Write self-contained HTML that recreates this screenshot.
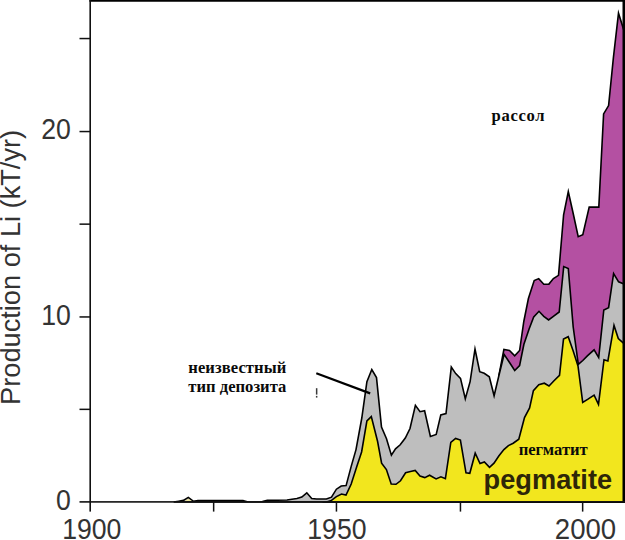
<!DOCTYPE html>
<html><head><meta charset="utf-8">
<style>
html,body{margin:0;padding:0;background:#fff;}
body{width:625px;height:540px;overflow:hidden;position:relative;font-family:"Liberation Sans",sans-serif;}
svg{position:absolute;left:0;top:0;display:block;}
.ax{font-family:"Liberation Sans",sans-serif;font-size:26.67px;fill:#333;}
.ru{font-family:"Liberation Serif",serif;font-weight:bold;font-size:16.6px;fill:#0a0a0a;}
</style></head><body>
<svg width="625" height="540" viewBox="0 0 625 540">
<rect x="0" y="0" width="625" height="540" fill="#fff"/>
<g stroke="#000" stroke-width="1.6" stroke-linejoin="miter" stroke-miterlimit="10">
<polygon fill="#B450A2" points="498.8,502 498.8,376.0 503.9,349.5 509.5,350.5 514.7,355.9 519.6,350.5 523.8,321.5 528.4,298.5 534.2,280.5 538.7,278.6 543.8,284.3 548.9,284.1 553.4,278.6 558.5,275.4 563.6,214.8 568.3,191.5 573.2,213.5 578.2,236.7 582.8,234.7 589.2,207.1 594.0,207.1 598.8,207.1 603.6,113.9 608.6,105.6 613.4,57.6 618.5,13.2 624.0,30.7 624.0,502"/>
<polygon fill="#BEBEBE" points="173.7,502 173.7,502.0 178.7,501.2 183.4,500.4 188.3,497.4 193.2,501.2 198.0,500.6 243.0,500.6 248.0,502.0 260.0,502.0 262.4,501.6 267.3,500.4 287.0,500.0 296.9,498.5 301.8,497.0 306.8,492.8 311.7,498.5 316.6,499.0 326.4,499.0 331.5,497.2 336.4,489.2 341.2,486.0 346.1,485.6 351.2,466.4 356.0,449.6 361.8,418.0 366.9,381.6 371.8,369.5 376.5,377.6 381.5,427.0 386.5,438.8 391.4,455.2 395.5,448.8 400.2,444.8 405.3,438.0 410.0,428.5 415.4,405.3 420.0,411.7 424.6,410.7 430.4,436.4 436.2,434.4 440.8,414.9 446.0,413.6 451.3,367.1 455.7,373.6 460.5,378.4 465.3,398.7 470.1,381.6 475.0,349.0 479.7,371.7 484.2,373.3 489.3,376.8 494.1,395.8 498.8,376.0 504.1,354.4 509.2,362.0 514.7,370.5 519.6,365.5 523.9,344.3 529.1,329.0 533.7,317.0 539.0,311.3 543.8,316.3 548.6,319.9 553.4,316.3 559.2,312.0 563.7,266.6 568.3,268.6 573.2,327.0 578.3,364.4 582.8,360.5 587.6,355.7 594.1,349.8 598.7,357.6 603.8,310.0 608.6,307.6 613.6,273.5 618.6,281.8 624.0,284.0 624.0,502"/>
<polygon fill="#F2E61E" points="326.4,502 326.4,502.0 331.5,500.4 336.4,496.6 341.5,494.0 346.0,495.1 351.2,484.0 356.8,466.4 361.6,452.0 366.9,420.8 371.3,416.6 377.6,441.5 381.6,463.2 386.4,469.6 391.2,484.0 396.0,484.3 400.5,480.8 405.6,472.8 410.4,471.5 415.2,470.4 420.0,476.0 424.8,477.6 429.6,475.2 436.1,478.9 440.9,476.8 445.4,478.7 450.8,442.4 455.6,438.4 460.4,440.0 466.0,472.8 469.8,473.3 475.2,453.2 480.0,463.6 484.4,461.9 489.5,467.3 494.0,463.2 498.8,456.0 503.9,449.6 508.4,445.6 513.2,443.2 518.8,439.2 524.5,417.5 529.6,408.0 533.4,390.6 538.8,384.7 544.3,383.2 549.0,386.0 554.0,380.8 559.5,375.4 563.5,339.1 568.2,336.7 573.2,350.9 578.0,366.0 582.7,402.4 587.6,399.4 594.1,395.2 598.5,404.4 604.0,359.7 607.9,361.0 614.0,325.4 618.3,338.5 624.0,343.6 624.0,502"/>
<polygon fill="#EAE29A" stroke="none" points="184.8,500.9 188.3,498.7 191.9,500.9"/>
</g>
<!-- frame -->
<rect x="89.4" y="0" width="535.6" height="1.75" fill="#000"/>
<rect x="622.5" y="0" width="2.5" height="502.7" fill="#000"/>
<rect x="89.4" y="0" width="1.6" height="511.6" fill="#111"/>
<rect x="79.5" y="501.1" width="545.5" height="1.6" fill="#111"/>
<g fill="#111">
<rect x="79.5" y="408.6" width="11" height="1.5"/>
<rect x="79.5" y="316.2" width="11" height="1.5"/>
<rect x="79.5" y="223.4" width="11" height="1.5"/>
<rect x="79.5" y="130.8" width="11" height="1.5"/>
<rect x="79.5" y="37.8" width="11" height="1.5"/>
<rect x="212.9" y="502" width="1.5" height="9.6"/>
<rect x="335.7" y="502" width="1.5" height="9.6"/>
<rect x="459.7" y="502" width="1.5" height="9.6"/>
<rect x="581.9" y="502" width="1.5" height="9.6"/>
</g>
<!-- arrow -->
<line x1="316.3" y1="373.3" x2="370.2" y2="393.4" stroke="#000" stroke-width="2.2"/>
<rect x="315.9" y="388.2" width="1.5" height="6.4" fill="#3a3a3a"/>
<rect x="315.9" y="395.9" width="1.5" height="1.7" fill="#3a3a3a"/>
<!-- axis labels -->
<g class="ax">
<text transform="translate(70.9,509.6) scale(1,1.075)" text-anchor="end">0</text>
<text transform="translate(70.9,324.6) scale(1,1.075)" text-anchor="end">10</text>
<text transform="translate(70.9,138.9) scale(1,1.075)" text-anchor="end">20</text>
<text transform="translate(91.8,539) scale(1,1.075)" text-anchor="middle">1900</text>
<text transform="translate(336.9,539) scale(1,1.075)" text-anchor="middle">1950</text>
<text transform="translate(554.8,539) scale(1,1.075)" textLength="61.4" lengthAdjust="spacingAndGlyphs">2000</text>
<text transform="translate(19.8,267.4) rotate(-90) scale(1,1.05)" text-anchor="middle" textLength="275" lengthAdjust="spacingAndGlyphs">Production of Li (kT/yr)</text>
</g>
<!-- annotations -->
<text class="ru" x="491.6" y="121.2" textLength="53" lengthAdjust="spacing">рассол</text>
<text class="ru" x="188.3" y="373" textLength="98" lengthAdjust="spacing">неизвестный</text>
<text class="ru" x="188.3" y="392.2" textLength="98" lengthAdjust="spacing">тип депозита</text>
<text class="ru" x="518.7" y="454.7" textLength="69" lengthAdjust="spacing">пегматит</text>
<text transform="translate(483.6,489.1) scale(1,1.05)" textLength="128.5" lengthAdjust="spacingAndGlyphs" style="font-family:'Liberation Sans',sans-serif;font-weight:bold;font-size:26.67px;fill:#2e2608;">pegmatite</text>
</svg>
</body></html>
